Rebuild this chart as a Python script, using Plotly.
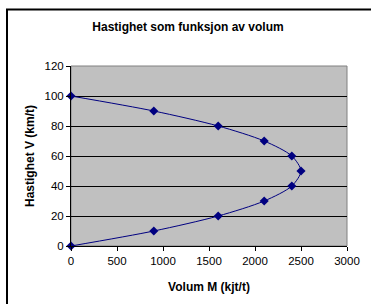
import plotly.graph_objects as go

volum = [0, 900, 1600, 2100, 2400, 2500, 2400, 2100, 1600, 900, 0]
hastighet = [0, 10, 20, 30, 40, 50, 60, 70, 80, 90, 100]
x_ticks = [0, 500, 1000, 1500, 2000, 2500, 3000]
y_ticks = [0, 20, 40, 60, 80, 100, 120]

W, H = 371, 304
L, R, T, B = 71, 347, 66, 246

def px(x):
    return (x - L) / (R - L)

def py(y):
    return (B - y) / (B - T)

fig = go.Figure()
fig.add_trace(go.Scatter(
    x=volum, y=hastighet, mode="lines+markers",
    line=dict(color="#000080", width=1, shape="spline", smoothing=0.8),
    marker=dict(symbol="diamond", size=7, color="#000080"),
    showlegend=False, cliponaxis=False, hoverinfo="skip",
))

font = dict(family="Liberation Sans, Arial, sans-serif", color="black")
border = dict(color="black", width=2)
fig.update_layout(
    width=W, height=H,
    margin=dict(l=L, r=W - R, t=T, b=H - B, autoexpand=False),
    paper_bgcolor="white", plot_bgcolor="#C0C0C0",
    hovermode=False,
    font=dict(size=11.5, **font),
    title=dict(text="<b>Hastighet som funksjon av volum</b>", x=188 / W, xanchor="center",
               y=1 - 27 / H, yanchor="middle", font=dict(size=12, **font), automargin=False),
    xaxis=dict(range=[0, 3000], tickvals=x_ticks, showgrid=False, zeroline=False,
               showline=True, linecolor="black", linewidth=1, automargin=False,
               ticks="outside", ticklen=4, tickcolor="black",
               title=dict(text="<b>Volum M (kjt/t)</b>", standoff=16, font=dict(size=12, **font))),
    yaxis=dict(range=[0, 120], tickvals=y_ticks, showgrid=True, gridcolor="black", gridwidth=1,
               zeroline=False, showline=True, linecolor="black", linewidth=1, automargin=False,
               ticks="outside", ticklen=4, tickcolor="black",
               title=dict(text="<b>Hastighet V (km/t)</b>", standoff=7, font=dict(size=12, **font))),
    shapes=[
        dict(type="rect", xref="paper", yref="paper", x0=0, x1=1, y0=0, y1=1,
             line=dict(color="#808080", width=1), layer="below"),
        dict(type="line", xref="paper", yref="paper", x0=px(7), x1=px(7), y0=py(304), y1=py(9),
             line=border, layer="above"),
        dict(type="line", xref="paper", yref="paper", x0=px(6), x1=px(371), y0=py(9.5), y1=py(9.5),
             line=border, layer="above"),
    ],
)

fig.write_html("out.html", config={"displayModeBar": False, "staticPlot": True},
               post_script="document.body.style.margin='0';document.body.style.overflow='hidden';")
